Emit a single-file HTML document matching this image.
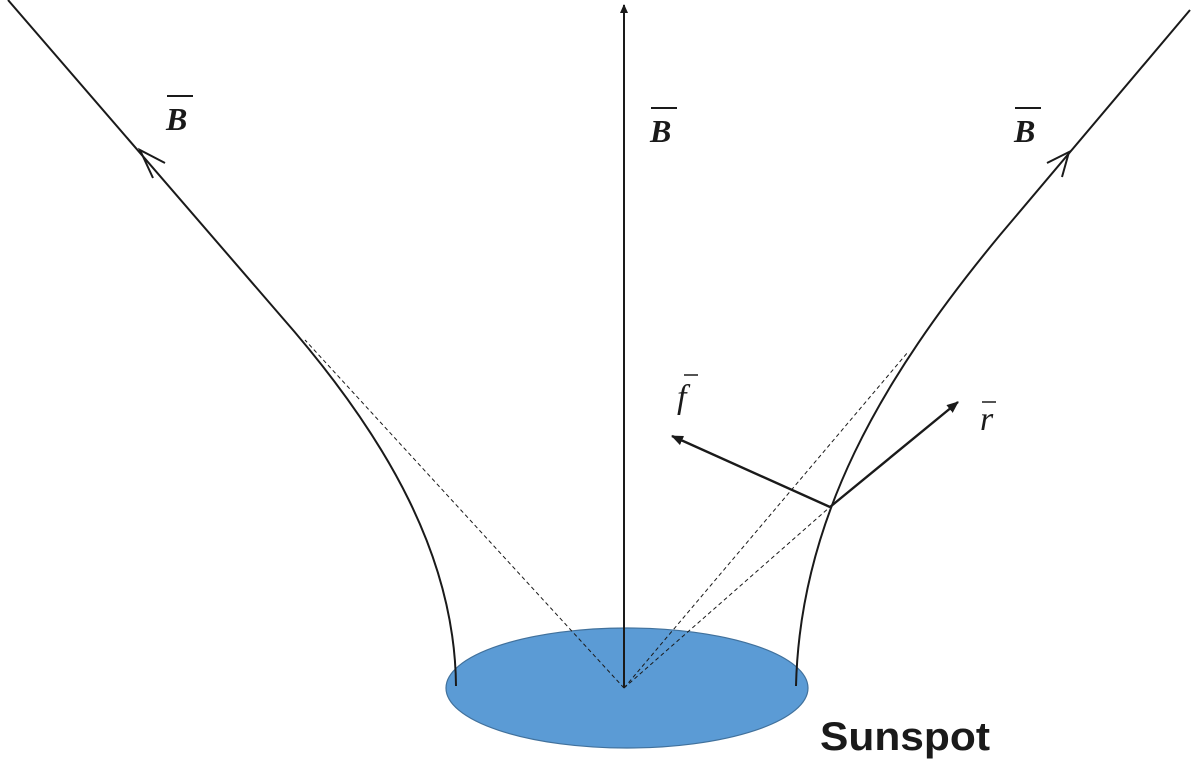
<!DOCTYPE html>
<html><head><style>body{margin:0;background:#fff}svg{display:block}</style></head><body>
<svg width="1200" height="762" viewBox="0 0 1200 762" xmlns="http://www.w3.org/2000/svg">
<defs>
<marker id="ah" markerWidth="14" markerHeight="14" refX="11" refY="6" orient="auto" markerUnits="userSpaceOnUse"><path d="M0,1 L12,6 L0,11 Z" fill="#1a1a1a"/></marker>
<marker id="ah2" markerWidth="10" markerHeight="12" refX="8" refY="5" orient="auto" markerUnits="userSpaceOnUse"><path d="M0,1 L9,5 L0,9 Z" fill="#1a1a1a"/></marker>
</defs>
<ellipse cx="627" cy="688" rx="181" ry="60" fill="#5b9bd5" stroke="#41719c" stroke-width="1.2"/>
<g stroke="#1a1a1a" stroke-width="1" stroke-dasharray="4,3" fill="none">
<line x1="624" y1="688" x2="305" y2="340"/>
<line x1="624" y1="688" x2="908" y2="352"/>
<line x1="624" y1="688" x2="830" y2="507"/>
</g>
<g stroke="#1a1a1a" stroke-width="2" fill="none">
<path d="M8,0 L280,315 C390,440 455,560 456,686"/>
<path d="M1190,10 L1000,235 C880,380 800,520 796,686"/>
<path d="M165,163 L140,150 L153,178"/>
<path d="M1047,163 L1069,152 L1062,177"/>
<line x1="624" y1="688" x2="624" y2="5" marker-end="url(#ah2)"/>
<line x1="830" y1="507" x2="672" y2="436" stroke-width="2.4" marker-end="url(#ah)"/>
<line x1="830" y1="507" x2="958" y2="402" stroke-width="2.4" marker-end="url(#ah)"/>
</g>
<g font-family="Liberation Serif, serif" font-style="italic" font-weight="bold" font-size="32" fill="#1a1a1a">
<text x="166" y="130">B</text><line x1="167" y1="96" x2="193" y2="96" stroke="#1a1a1a" stroke-width="2"/>
<text x="650" y="142">B</text><line x1="651" y1="108" x2="677" y2="108" stroke="#1a1a1a" stroke-width="2"/>
<text x="1014" y="142">B</text><line x1="1015" y1="108" x2="1041" y2="108" stroke="#1a1a1a" stroke-width="2"/>
</g>
<g font-family="Liberation Serif, serif" font-style="italic" font-size="34" fill="#1a1a1a">
<text x="677" y="408">f</text><line x1="684" y1="375" x2="698" y2="375" stroke="#1a1a1a" stroke-width="1.5"/>
<text x="980" y="430">r</text><line x1="982" y1="402" x2="996" y2="402" stroke="#1a1a1a" stroke-width="1.5"/>
</g>
<text x="820" y="750" font-family="Liberation Sans, sans-serif" font-weight="bold" font-size="40" textLength="170" lengthAdjust="spacingAndGlyphs" fill="#1a1a1a">Sunspot</text>
</svg>
</body></html>
